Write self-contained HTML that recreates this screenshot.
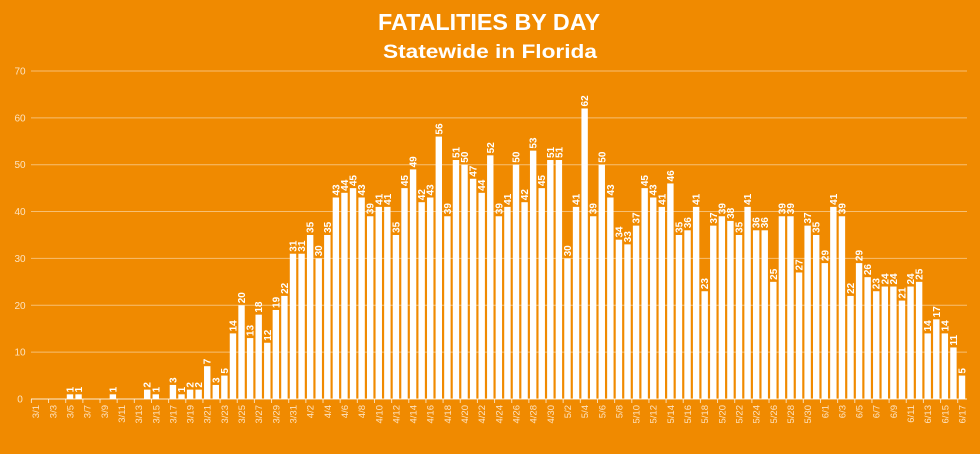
<!DOCTYPE html>
<html><head><meta charset="utf-8"><style>
html,body{margin:0;padding:0;background:#F08A00;}
svg{display:block;font-family:"Liberation Sans",sans-serif;}
</style></head><body>
<svg id="c" width="980" height="454" xmlns="http://www.w3.org/2000/svg">
<rect width="980" height="454" fill="#F08A00"/>
<text x="489" y="30" text-anchor="middle" font-size="23" font-weight="bold" fill="#fff" textLength="222" lengthAdjust="spacingAndGlyphs">FATALITIES BY DAY</text>
<text x="490" y="58" text-anchor="middle" font-size="19" font-weight="bold" fill="#fff" textLength="214" lengthAdjust="spacingAndGlyphs">Statewide in Florida</text>
<g id="g"></g>
</svg>
<script>
var d=[0,0,0,0,1,1,0,0,0,1,0,0,0,2,1,0,3,1,2,2,7,3,5,14,20,13,18,12,19,22,31,
31,35,30,35,43,44,45,43,39,41,41,35,45,49,42,43,56,39,51,50,47,44,52,39,41,50,42,53,45,51,
51,30,41,62,39,50,43,34,33,37,45,43,41,46,35,36,41,23,37,39,38,35,41,36,36,25,39,39,27,37,35,
29,41,39,22,29,26,23,24,24,21,24,25,14,17,14,11,5];
var y0=399,k=4.686,x0=31.4,w=8.577,s='';
for(var v=0;v<=70;v+=10){var y=y0-v*k;
 s+='<line x1="31" x2="967" y1="'+y+'" y2="'+y+'" stroke="rgba(255,255,255,0.45)" stroke-width="1"/>';
 s+='<text x="20" y="'+(y+3.5)+'" text-anchor="middle" font-size="10" fill="#fde3c0">'+v+'</text>';}
s+='<line x1="31" x2="967" y1="399" y2="399" stroke="rgba(255,255,255,0.7)"/>';
var mon=[[3,31],[4,30],[5,31],[6,17]],labs=[];
mon.forEach(function(m){for(var i=1;i<=m[1];i++)labs.push(m[0]+'/'+i);});
for(var i=0;i<d.length;i++){
 var cx=x0+w*(i+0.5),h=d[i]*k;
 if(d[i]>0){s+='<rect x="'+(cx-3.2)+'" y="'+(y0-h)+'" width="6.4" height="'+h+'" fill="#fff"/>';
  s+='<text transform="translate('+(cx+3.5)+','+(y0-h-2)+') rotate(-90)" font-size="10" font-weight="bold" fill="#fff">'+d[i]+'</text>';}
 if(i%2==0){var tx=x0+w*i;
  s+='<line x1="'+tx+'" x2="'+tx+'" y1="399" y2="403" stroke="rgba(255,255,255,0.7)"/>';
  s+='<text transform="translate('+(cx+3.5)+',405) rotate(-90)" text-anchor="end" font-size="9.5" fill="#fde3c0">'+labs[i]+'</text>';}
}
document.getElementById('g').innerHTML=s;
</script>
</body></html>
